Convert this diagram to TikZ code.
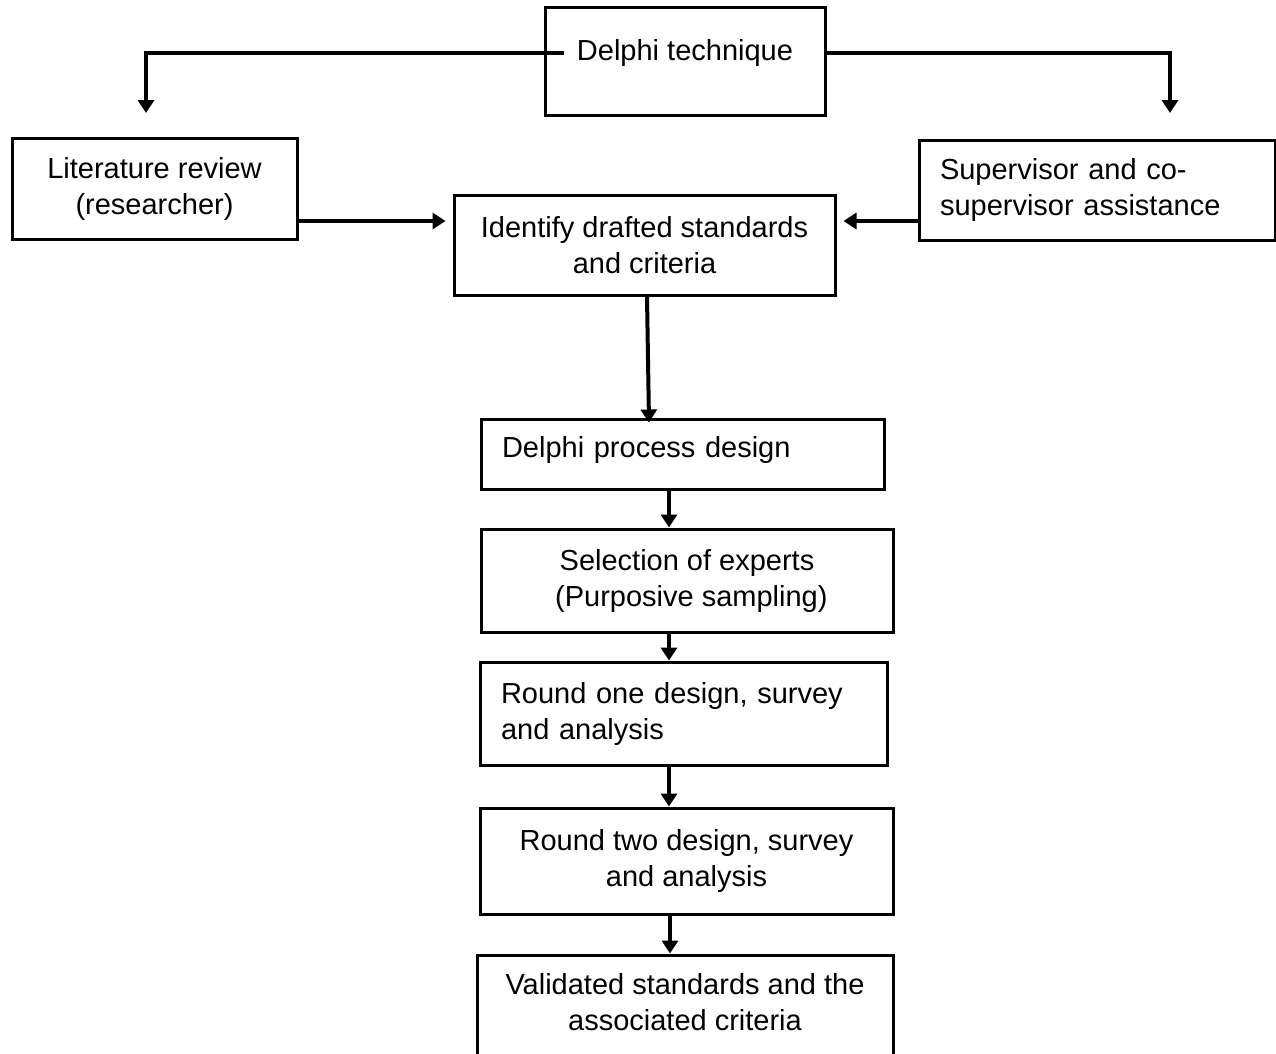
\documentclass[tikz,border=0pt]{standalone}
\usepackage{fontspec}
\setmainfont{Liberation Sans}
\usetikzlibrary{arrows.meta,calc}
\begin{document}
\begin{tikzpicture}[x=1pt,y=-1pt,
  box/.style={draw,line width=3pt,inner sep=0pt,font=\fontsize{29}{36}\selectfont,align=center},
  lbox/.style={draw,line width=3pt,inner ysep=0pt,inner xsep=21pt,font=\fontsize{29}{36}\selectfont,align=left},
  arr/.style={line width=4pt,-{Triangle[width=16pt,length=13pt]}}]
\clip (0,0) rectangle (1276,1053);
\fill[white] (0,0) rectangle (1276,1053);
% nodes
\node[box,minimum width=280pt,minimum height=108pt,text height=21pt,text depth=23pt] (delphi) at (685,61) {Delphi technique};
\node[box,minimum width=285pt,minimum height=101pt] (lit) at (154.5,189) {Literature review\\(researcher)};
\node[lbox,minimum width=356pt,minimum height=100pt,text width=314pt] (sup) at (1097,190) {Supervisor and co-\\supervisor assistance};
\node[box,minimum width=381pt,minimum height=100pt] (ident) at (644.5,245) {Identify drafted standards\\and criteria};
\node[lbox,minimum width=403pt,minimum height=70pt,text width=361pt,text height=21pt,text depth=14pt] (proc) at (682.5,454) {Delphi process design};
\node[box,minimum width=412pt,minimum height=103pt] (sel) at (687,580.5) {Selection of experts\\\hspace{0.3em}(Purposive sampling)};
\node[lbox,minimum width=407pt,minimum height=103pt,text width=365pt] (r1) at (683.5,713.5) {Round one design, survey\\and analysis};
\node[box,minimum width=413pt,minimum height=106pt] (r2) at (686.5,861) {Round two design, survey\\and analysis};
\node[box,minimum width=416pt,minimum height=103pt] (val) at (685,1006.5) {Validated standards and the\\associated criteria\\[-26pt]\mbox{}};
% helper coordinates
\coordinate (dl) at (564,53);
\coordinate (litin) at (146,113);
\coordinate (supin) at (1170,113);
\coordinate (a1) at (0,221);
\coordinate (cx) at (669,0);
\coordinate (cx2) at (670,0);
% connectors
\draw[arr] (dl) -| (litin);
\draw[arr] (delphi.east |- dl) -| (supin);
\draw[arr,shorten >=7pt] (lit.east |- a1) -- (ident.west |- a1);
\draw[arr,shorten >=7pt] (sup.west |- a1) -- (ident.east |- a1);
\draw[arr] ([xshift=2.5pt]ident.south) -- ([xshift=-33.5pt,yshift=-5pt]proc.north);
\draw[arr] (proc.south -| cx) -- (sel.north -| cx);
\draw[arr] (sel.south -| cx) -- (r1.north -| cx);
\draw[arr] (r1.south -| cx) -- (r2.north -| cx);
\draw[arr] (r2.south -| cx2) -- (val.north -| cx2);
\end{tikzpicture}
\end{document}
